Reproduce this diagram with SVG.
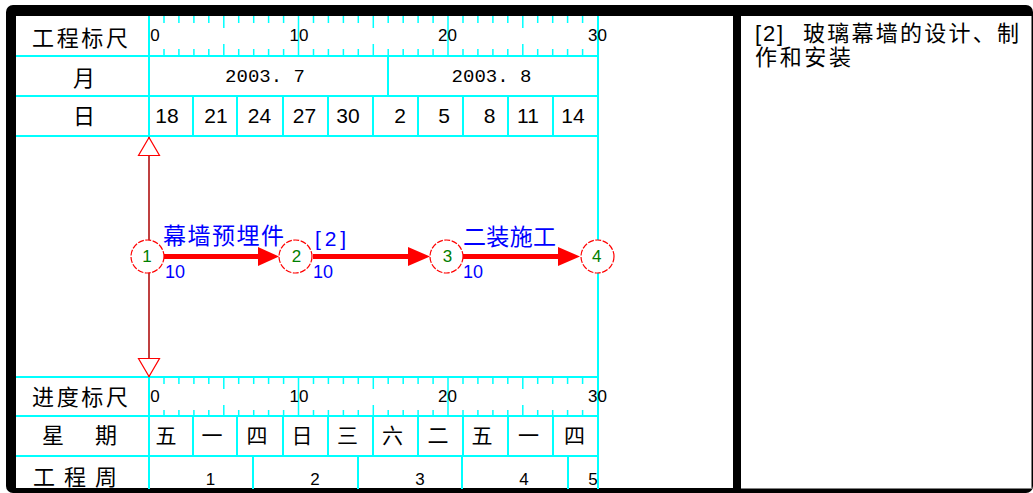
<svg xmlns="http://www.w3.org/2000/svg" xmlns:xlink="http://www.w3.org/1999/xlink" width="1033" height="493" viewBox="0 0 1033 493">
<style>
.grid{stroke:#00FFFF;stroke-width:2;fill:none}
.tick{stroke:#00FFFF;stroke-width:1.5;fill:none}
.lbl{font-family:"Liberation Sans","Noto Sans CJK SC",sans-serif;font-size:22px;fill:#000;dominant-baseline:central}
.num{font-family:"Liberation Sans","Noto Sans CJK SC",sans-serif;font-size:17px;fill:#000;dominant-baseline:central;text-anchor:middle}
.mono{font-family:"Liberation Mono",monospace;font-size:19px;fill:#000;dominant-baseline:central;text-anchor:middle}
.day{font-family:"Liberation Sans","Noto Sans CJK SC",sans-serif;font-size:21px;fill:#000;dominant-baseline:central;text-anchor:middle}
.wk{font-family:"Liberation Sans","Noto Sans CJK SC",sans-serif;font-size:21px;fill:#000;dominant-baseline:central;text-anchor:middle}
.blue{font-family:"Liberation Sans","Noto Sans CJK SC",sans-serif;fill:#0000FF;dominant-baseline:central}
.nid{font-family:"Liberation Sans",sans-serif;font-size:17px;fill:#008000;dominant-baseline:central;text-anchor:middle}
.node{fill:#fff;stroke:#FF0000;stroke-width:1.2;stroke-dasharray:6 1.5}
.work{stroke:#FF0000;stroke-width:5;fill:none}
.head{fill:#FF0000}
</style>
<defs>
<g id="scale">
<path class="tick" d="M164 16V23M178.9 16V23M193.9 16V23M208.8 16V23M238.7 16V23M253.7 16V23M268.6 16V23M283.6 16V23M313.5 16V23M328.4 16V23M343.4 16V23M358.3 16V23M388.2 16V23M403.2 16V23M418.1 16V23M433.1 16V23M463 16V23M477.9 16V23M492.9 16V23M507.8 16V23M537.7 16V23M552.7 16V23M567.6 16V23M582.6 16V23M223.8 16V28M373.3 16V28M522.8 16V28M164 49V56M178.9 49V56M193.9 49V56M208.8 49V56M238.7 49V56M253.7 49V56M268.6 49V56M283.6 49V56M313.5 49V56M328.4 49V56M343.4 49V56M358.3 49V56M388.2 49V56M403.2 49V56M418.1 49V56M433.1 49V56M463 49V56M477.9 49V56M492.9 49V56M507.8 49V56M537.7 49V56M552.7 49V56M567.6 49V56M582.6 49V56M223.8 44V56M373.3 44V56M522.8 44V56M298.5 16V56M448 16V56"/>
<text class="num" x="155" y="35.5">0</text>
<text class="num" x="299" y="35.5">10</text>
<text class="num" x="447.5" y="35.5">20</text>
<text class="num" x="597.5" y="35.5">30</text>
</g>
</defs>

<!-- frame -->
<g id="frame">
<rect x="6" y="5" width="1027" height="488" rx="7" fill="#000"/>
<rect x="16" y="16" width="717" height="472" fill="#fff"/>
<rect x="741" y="16" width="291" height="473" fill="#fff"/>
<path d="M1031.5 16V489M741 488.5H1032" stroke="#808080" stroke-width="1" fill="none"/>
</g>

<!-- grid -->
<g id="grid">
<path class="grid" d="M16 56H598M16 96H598M16 136H598M16 377H598M16 416H598M16 456H598M149 16V489M598 16V489M388 56V96M193 96V136M237 96V136M283 96V136M328 96V136M373 96V136M418 96V136M463 96V136M508 96V136M553 96V136M193 416V456M237 416V456M283 416V456M328 416V456M373 416V456M418 416V456M463 416V456M508 416V456M553 416V456M253 456V489M358 456V489M462 456V489M568 456V489"/>
<use xlink:href="#scale"/>
<use xlink:href="#scale" transform="translate(0,361)"/>
</g>

<!-- left labels -->
<g id="labels">
<text class="lbl" x="32" y="38.5" textLength="96">工程标尺</text>
<text class="lbl" x="84" y="78.5" text-anchor="middle">月</text>
<text class="lbl" x="84" y="116.5" text-anchor="middle">日</text>
<text class="lbl" x="32" y="397.5" textLength="96">进度标尺</text>
<text class="lbl" x="42" y="435" textLength="75">星 期</text>
<text class="lbl" x="33" y="477" textLength="84">工程周</text>
</g>

<!-- month / day / weekday / week -->
<g id="calendar">
<text class="mono" x="265" y="77">2003. 7</text>
<text class="mono" x="491.5" y="77">2003. 8</text>
<text class="day" x="167" y="115">18</text>
<text class="day" x="216" y="115">21</text>
<text class="day" x="259.5" y="115">24</text>
<text class="day" x="304.5" y="115">27</text>
<text class="day" x="348" y="115">30</text>
<text class="day" x="400" y="115">2</text>
<text class="day" x="444" y="115">5</text>
<text class="day" x="489.5" y="115">8</text>
<text class="day" x="528" y="115">11</text>
<text class="day" x="573" y="115">14</text>
<text class="wk" x="166" y="435">五</text>
<text class="wk" x="212" y="435">一</text>
<text class="wk" x="257" y="435">四</text>
<text class="wk" x="302" y="435">日</text>
<text class="wk" x="347.5" y="435">三</text>
<text class="wk" x="392.5" y="435">六</text>
<text class="wk" x="438" y="435">二</text>
<text class="wk" x="482" y="435">五</text>
<text class="wk" x="528.5" y="435">一</text>
<text class="wk" x="574.5" y="435">四</text>
<text class="num" x="210.5" y="479" font-size="18">1</text>
<text class="num" x="315" y="479" font-size="18">2</text>
<text class="num" x="420" y="479" font-size="18">3</text>
<text class="num" x="524" y="479" font-size="18">4</text>
<text class="num" x="593" y="479" font-size="18">5</text>
</g>

<!-- connectors -->
<g id="connectors">
<path d="M149 137V377" stroke="#FF0000" stroke-width="1.5" fill="none"/>
<path d="M149 137.5L138.5 155.5H159.5Z" fill="#fff" stroke="#FF0000" stroke-width="1.2"/>
<path d="M149 376.5L138.5 358.5H159.5Z" fill="#fff" stroke="#FF0000" stroke-width="1.2"/>
<path class="work" d="M164 256.5H260M313 256.5H410M463 256.5H560"/>
<path class="head" d="M258 247L279 256.5L258 266Z"/>
<path class="head" d="M408 247L430 256.5L408 266Z"/>
<path class="head" d="M558 247L580 256.5L558 266Z"/>
<text class="blue" x="163" y="236" font-size="23" textLength="121">幕墙预埋件</text>
<text class="blue" x="165" y="271.5" font-size="18">10</text>
<text class="blue" x="315" y="238" font-size="21" textLength="31">[2]</text>
<text class="blue" x="313" y="271.5" font-size="18">10</text>
<text class="blue" x="463" y="237" font-size="23" textLength="93">二装施工</text>
<text class="blue" x="463" y="271.5" font-size="18">10</text>
</g>

<!-- nodes -->
<g id="node1"><circle class="node" cx="147.5" cy="256.5" r="16.5"/><text class="nid" x="147" y="256.5">1</text></g>
<g id="node2"><circle class="node" cx="295.5" cy="256.5" r="16.5"/><text class="nid" x="296.5" y="256.5">2</text></g>
<g id="node3"><circle class="node" cx="446.5" cy="256.5" r="16.5"/><text class="nid" x="447.5" y="256.5">3</text></g>
<g id="node4"><circle class="node" cx="597.5" cy="256.5" r="16.5"/><text class="nid" x="596.7" y="256.5">4</text></g>

<!-- note panel -->
<g id="note">
<text class="lbl" x="755" y="33" font-size="17"><tspan textLength="28">[2]</tspan> <tspan x="803" textLength="216">玻璃幕墙的设计、制</tspan></text>
<text class="lbl" x="755" y="57" font-size="17" textLength="96">作和安装</text>
</g>
</svg>
